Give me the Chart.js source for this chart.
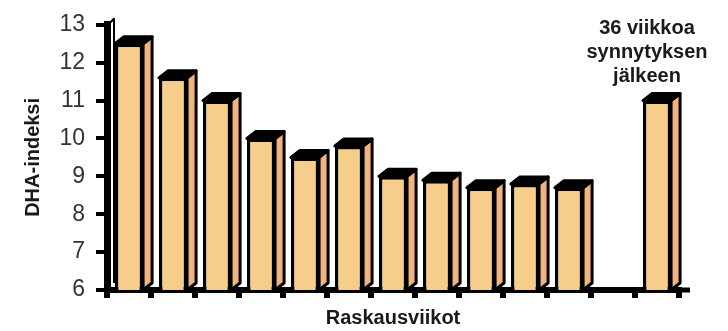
<!DOCTYPE html>
<html>
<head>
<meta charset="utf-8">
<script src="https://cdn.jsdelivr.net/npm/chart.js@4"></script>
<style>
  html, body { margin: 0; padding: 0; background: #fff; }
  #wrap { width: 728px; height: 331px; }
</style>
</head>
<body>
<div id="wrap"><canvas id="dhaChart" width="728" height="331"></canvas></div>
<script>
// --- Data ---
const categories = ['vk1', 'vk2', 'vk3', 'vk4', 'vk5', 'vk6', 'vk7', 'vk8', 'vk9', 'vk10', 'vk11', 'tyhjä', '36 vk synnytyksen jälkeen'];
const dhaValues = [12.5, 11.6, 11.0, 10.0, 9.5, 9.8, 9.0, 8.9, 8.7, 8.8, 8.7, null, 11.0];
const noteLines = ['36 viikkoa', 'synnytyksen', 'jälkeen'];

const colors = {
  front: '#F7CD8B',
  side: '#F2B47D',
  edge: '#000000',
  text: '#333333',
};

const FONT = "'Liberation Sans', Arial, sans-serif";
const DEPTH_X = 9;
const DEPTH_Y = 7;

// draws side + top faces behind the bars chart.js renders
const bar3d = {
  id: 'bar3d',
  beforeDatasetsDraw(chart) {
    const ctx = chart.ctx;
    const area = chart.chartArea;
    const meta = chart.getDatasetMeta(0);
    ctx.save();
    ctx.lineJoin = 'round';

    // back wall edge next to the y axis
    ctx.strokeStyle = colors.edge;
    ctx.lineWidth = 2;
    ctx.beginPath();
    ctx.moveTo(area.left + 3, area.top - 2);
    ctx.lineTo(area.left + DEPTH_X - 2, area.top - DEPTH_Y + 1);
    ctx.lineTo(area.left + DEPTH_X - 2, area.bottom - DEPTH_Y);
    ctx.stroke();

    meta.data.forEach((bar, i) => {
      if (dhaValues[i] == null) return;
      const { x, y, width } = bar.getProps(['x', 'y', 'width'], true);
      const base = area.bottom; // bars sit on the y min (6)
      const l = x - width / 2;
      const r = x + width / 2;

      // side face
      ctx.beginPath();
      ctx.moveTo(r, y);
      ctx.lineTo(r + DEPTH_X, y - DEPTH_Y);
      ctx.lineTo(r + DEPTH_X, base - DEPTH_Y);
      ctx.lineTo(r, base);
      ctx.closePath();
      ctx.fillStyle = colors.side;
      ctx.fill();
      ctx.lineWidth = 3;
      ctx.strokeStyle = colors.edge;
      ctx.stroke();

      // top face
      ctx.beginPath();
      ctx.moveTo(l, y);
      ctx.lineTo(l + DEPTH_X, y - DEPTH_Y);
      ctx.lineTo(r + DEPTH_X, y - DEPTH_Y);
      ctx.lineTo(r, y);
      ctx.closePath();
      ctx.fillStyle = colors.edge;
      ctx.fill();
      ctx.stroke();
    });
    ctx.restore();
  },
  afterDraw(chart) {
    const ctx = chart.ctx;
    const area = chart.chartArea;
    const xScale = chart.scales.x;
    ctx.save();

    // floor extension past the last tick
    ctx.strokeStyle = colors.edge;
    ctx.lineWidth = 5;
    ctx.beginPath();
    ctx.moveTo(area.right - 2, area.bottom);
    ctx.lineTo(area.right + DEPTH_X + 2, area.bottom);
    ctx.stroke();

    // note above the post-partum bar
    const cx = xScale.getPixelForValue(categories.length - 1) - 10;
    ctx.fillStyle = '#1a1a1a';
    ctx.font = `bold 20px ${FONT}`;
    ctx.textAlign = 'center';
    ctx.textBaseline = 'middle';
    noteLines.forEach((line, i) => {
      ctx.fillText(line, cx, area.top + 4 + i * 24);
    });
    ctx.restore();
  }
};

const ctx = document.getElementById('dhaChart').getContext('2d');
new Chart(ctx, {
  type: 'bar',
  data: {
    labels: categories,
    datasets: [{
      label: 'DHA-indeksi',
      data: dhaValues,
      backgroundColor: colors.front,
      borderColor: colors.edge,
      borderWidth: 3.5,
      borderSkipped: 'start',
      categoryPercentage: 1,
      barPercentage: 0.64,
    }]
  },
  options: {
    responsive: false,
    animation: false,
    events: [],
    layout: { padding: { top: 18, right: 49, left: 0, bottom: 0 } },
    plugins: { legend: { display: false }, tooltip: { enabled: false } },
    scales: {
      x: {
        afterFit(scale) { scale.height = 41; },
        grid: {
          offset: true,
          drawOnChartArea: false,
          tickLength: 8,
          lineWidth: 6,
          tickWidth: 6,
          tickColor: colors.edge,
          color: colors.edge,
        },
        border: { display: true, color: colors.edge, width: 6 },
        ticks: { callback: () => '', font: { size: 10 } },
        title: {
          display: true,
          text: 'Raskausviikot',
          color: '#1a1a1a',
          font: { family: FONT, size: 20, weight: 'bold' },
          padding: { top: 0, bottom: 1 },
        },
      },
      y: {
        min: 6,
        max: 13,
        afterFit(scale) { scale.width = 107; },
        grid: {
          drawOnChartArea: false,
          tickLength: 11,
          lineWidth: 4,
          tickWidth: 4,
          tickColor: colors.edge,
          color: colors.edge,
        },
        border: { display: true, color: colors.edge, width: 7 },
        ticks: {
          stepSize: 1,
          padding: 11,
          color: colors.text,
          font: { family: FONT, size: 23 },
        },
        title: {
          display: true,
          text: 'DHA-indeksi',
          color: '#1a1a1a',
          font: { family: FONT, size: 20, weight: 'bold' },
          padding: { top: 21, bottom: 0 },
        },
      }
    }
  },
  plugins: [bar3d]
});
</script>
</body>
</html>
